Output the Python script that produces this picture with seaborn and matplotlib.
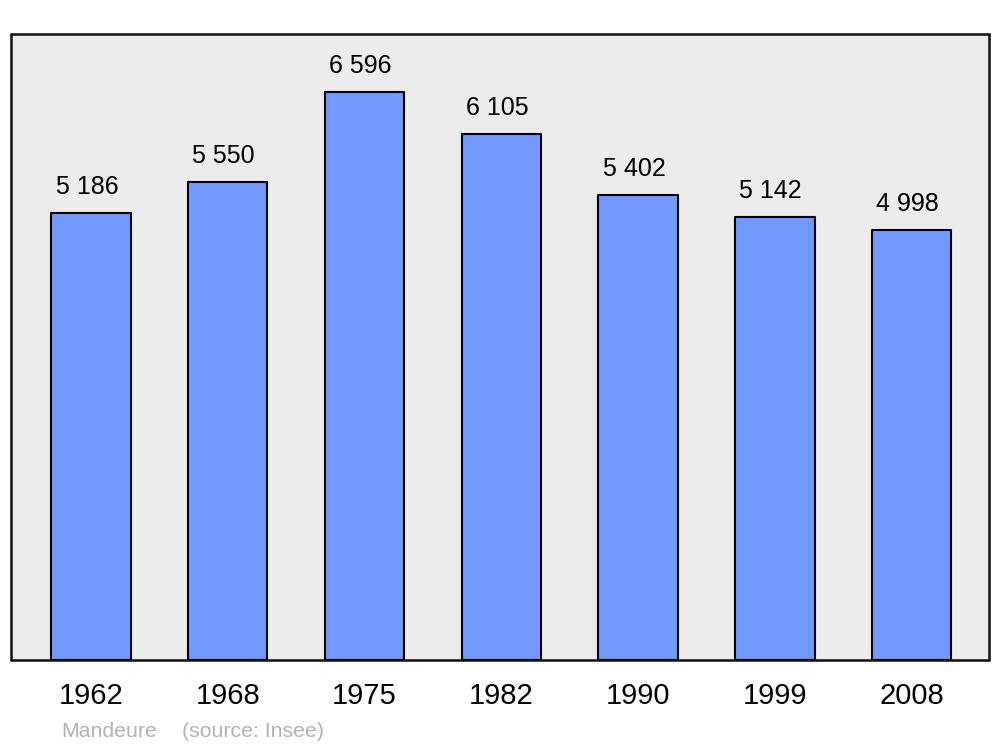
import matplotlib
matplotlib.use("Agg")
import matplotlib.pyplot as plt
import seaborn as sns
import pandas as pd

# population data for Mandeure
years = ["1962", "1968", "1975", "1982", "1990", "1999", "2008"]
population = [5186, 5550, 6596, 6105, 5402, 5142, 4998]
value_labels = ["5 186", "5 550", "6 596", "6 105", "5 402", "5 142", "4 998"]

sns.set_style("white")
plt.rcParams['font.family'] = ['Liberation Sans', 'DejaVu Sans']
plt.rcParams['text.color'] = 'black'
plt.rcParams['xtick.color'] = 'black'

df = pd.DataFrame({"year": years, "population": population})

fig = plt.figure(figsize=(10, 7.47), dpi=100)
ax = fig.add_axes([0.011, 0.1165, 0.978, 0.838])
ax.set_facecolor("#ececec")

sns.barplot(data=df, x="year", y="population", color="#7399ff", saturation=1,
            width=0.58, edgecolor="black", linewidth=1.5, ax=ax)

for patch in ax.patches:
    patch.set_joinstyle("round")

for i, (v, lab) in enumerate(zip(population, value_labels)):
    ax.annotate(lab, (i, v), xytext=(-3, 13.7), textcoords="offset points",
                ha="center", va="baseline", fontsize=18, color="black")

ax.set_xlim(-0.585, 6.565)
ax.set_ylim(0, 7270)
ax.set_yticks([])
ax.set_xlabel("")
ax.set_ylabel("")
ax.tick_params(axis="x", length=0, pad=16, labelsize=21, labelcolor="black")

for side in ax.spines.values():
    side.set_visible(True)
    side.set_linewidth(1.8)
    side.set_color("#111111")
    side.set_capstyle("round")
    side.set_joinstyle("round")

fig.text(0.061, 1 - 737 / 747, "Mandeure", color="#b3b3b3", fontsize=15.3, va="baseline")
fig.text(0.182, 1 - 737 / 747, "(source: Insee)", color="#b3b3b3", fontsize=15.3, va="baseline")

fig.savefig("out.png", dpi=100, facecolor="white")
